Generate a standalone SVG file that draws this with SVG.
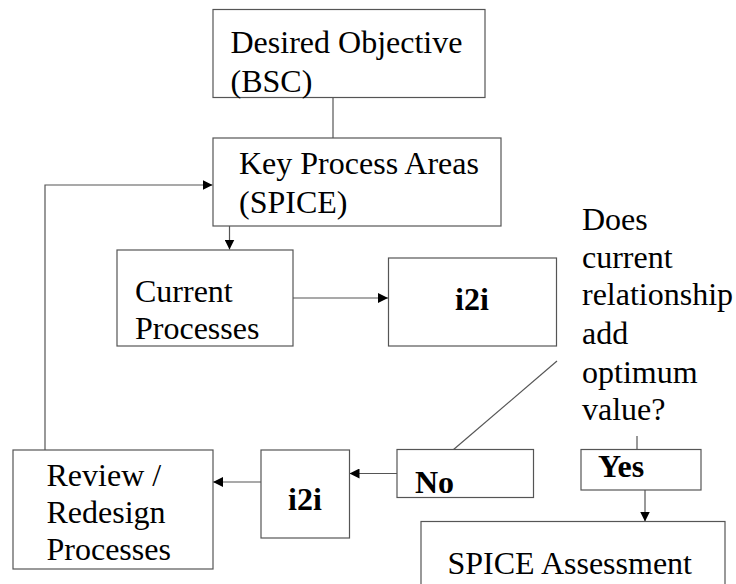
<svg xmlns="http://www.w3.org/2000/svg" width="736" height="584" viewBox="0 0 736 584">
  <style>
    .box { fill: #ffffff; stroke: #555555; stroke-width: 1.2; }
    .wire { fill: none; stroke: #555555; stroke-width: 1.2; }
  </style>
  <defs>
    <marker id="arrow" viewBox="0 0 10 10" refX="10" refY="5" markerWidth="10" markerHeight="10" markerUnits="userSpaceOnUse" orient="auto">
      <path d="M0,0 L10,5 L0,10 Z" fill="#000000"/>
    </marker>
  </defs>
  <rect width="736" height="584" fill="#ffffff"/>

  <g id="connectors">
    <line class="wire" x1="333" y1="98" x2="333" y2="138"/>
    <line class="wire" x1="229.5" y1="226" x2="229.5" y2="249.5" marker-end="url(#arrow)"/>
    <line class="wire" x1="293" y1="298" x2="388" y2="298" marker-end="url(#arrow)"/>
    <polyline class="wire" points="45,450 45,185 212.5,185" marker-end="url(#arrow)"/>
    <line class="wire" x1="261" y1="482" x2="213" y2="482" marker-end="url(#arrow)"/>
    <line class="wire" x1="397" y1="473.5" x2="349.5" y2="473.5" marker-end="url(#arrow)"/>
    <line class="wire" x1="453" y1="450" x2="557" y2="361"/>
    <line class="wire" x1="637" y1="436" x2="637" y2="450"/>
    <line class="wire" x1="645" y1="490" x2="645" y2="521.5" marker-end="url(#arrow)"/>
  </g>

  <g font-family="Liberation Serif, Tinos, Times New Roman, DejaVu Serif, serif" font-size="32" fill="#000000">
    <g id="desired-objective">
      <rect class="box" x="213" y="9.5" width="272" height="88"/>
      <text x="230.5" y="53">Desired Objective</text>
      <text x="230.5" y="92">(BSC)</text>
    </g>

    <g id="key-process-areas">
      <rect class="box" x="213" y="138" width="288" height="88"/>
      <text x="239" y="174">Key Process Areas</text>
      <text x="239" y="213">(SPICE)</text>
    </g>

    <g id="current-processes">
      <rect class="box" x="117" y="250" width="176" height="96"/>
      <text x="135" y="302">Current</text>
      <text x="135" y="339">Processes</text>
    </g>

    <g id="i2i-top">
      <rect class="box" x="388.5" y="258" width="168" height="88"/>
      <text x="472" y="310" text-anchor="middle" font-weight="bold">i2i</text>
    </g>

    <g id="question">
      <text x="582" y="230">Does</text>
      <text x="582" y="268">current</text>
      <text x="582" y="305">relationship</text>
      <text x="582" y="344">add</text>
      <text x="582" y="383">optimum</text>
      <text x="582" y="420">value?</text>
    </g>

    <g id="review-redesign">
      <rect class="box" x="13" y="450" width="200" height="119"/>
      <text x="46.5" y="486">Review /</text>
      <text x="46.5" y="523">Redesign</text>
      <text x="46.5" y="560">Processes</text>
    </g>

    <g id="i2i-bottom">
      <rect class="box" x="261" y="450" width="88.5" height="88"/>
      <text x="305" y="510" text-anchor="middle" font-weight="bold">i2i</text>
    </g>

    <g id="no">
      <rect class="box" x="397" y="449.5" width="136.5" height="48"/>
      <text x="415" y="493" font-weight="bold">No</text>
    </g>

    <g id="yes">
      <rect class="box" x="581" y="449.5" width="120" height="40.5"/>
      <text x="598" y="477" font-weight="bold">Yes</text>
    </g>

    <g id="spice-assessment">
      <rect class="box" x="421" y="521.5" width="304" height="80"/>
      <text x="447.5" y="574">SPICE Assessment</text>
    </g>
  </g>
</svg>
